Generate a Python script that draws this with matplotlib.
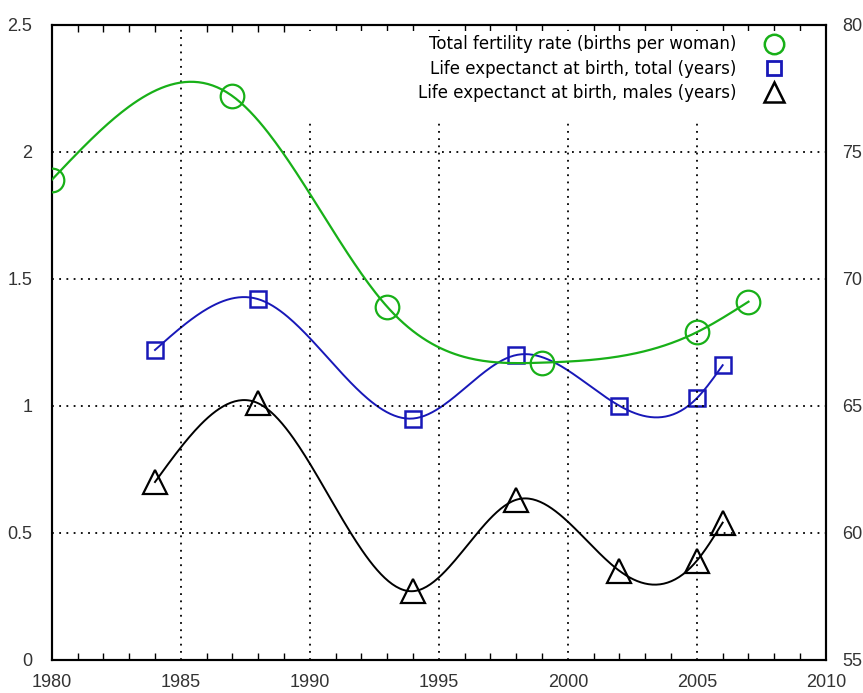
import numpy as np
import matplotlib.pyplot as plt
from matplotlib.patches import Rectangle
from matplotlib.ticker import MultipleLocator

# data
fert_years = [1980, 1987, 1993, 1999, 2005, 2007]
fertility = [1.89, 2.22, 1.39, 1.17, 1.29, 1.41]

life_years = [1984, 1988, 1994, 1998, 2002, 2005, 2006]
life_total = [67.2, 69.2, 64.5, 67.0, 65.0, 65.3, 66.6]
life_males = [62.0, 65.1, 57.7, 61.3, 58.5, 58.9, 60.4]

labels = ['Total fertility rate (births per woman)',
          'Life expectanct at birth, total (years)',
          'Life expectanct at birth, males (years)']


def natural_spline(x, y, n=300):
    # natural cubic spline through the points, for the smooth curves
    x = np.asarray(x, float)
    y = np.asarray(y, float)
    k = len(x)
    h = np.diff(x)
    A = np.zeros((k, k))
    b = np.zeros(k)
    A[0, 0] = A[-1, -1] = 1
    for i in range(1, k - 1):
        A[i, i - 1] = h[i - 1]
        A[i, i] = 2 * (h[i - 1] + h[i])
        A[i, i + 1] = h[i]
        b[i] = 3 * ((y[i + 1] - y[i]) / h[i] - (y[i] - y[i - 1]) / h[i - 1])
    c = np.linalg.solve(A, b)
    xs = np.linspace(x[0], x[-1], n)
    idx = np.clip(np.searchsorted(x, xs) - 1, 0, k - 2)
    dx = xs - x[idx]
    bb = (y[1:] - y[:-1]) / h - h * (2 * c[:-1] + c[1:]) / 3
    dd = (c[1:] - c[:-1]) / (3 * h)
    ys = y[idx] + bb[idx] * dx + c[idx] * dx**2 + dd[idx] * dx**3
    return xs, ys


plt.rcParams['font.family'] = ['Liberation Sans Narrow', 'Liberation Sans', 'DejaVu Sans']

fig = plt.figure(figsize=(8.63, 6.93), dpi=100)
ax = fig.add_axes([0.060, 0.048, 0.897, 0.916])
ax2 = ax.twinx()

green = '#18b018'
blue = '#1818b8'

xs, ys = natural_spline(fert_years, fertility)
ax.plot(xs, ys, color=green, lw=1.6, zorder=3)
ax.plot(fert_years, fertility, 'o', ms=17, mfc='none', mec=green, mew=1.6, zorder=4)

xs, ys = natural_spline(life_years, life_total)
ax2.plot(xs, ys, color=blue, lw=1.4, zorder=3)
ax2.plot(life_years, life_total, 's', ms=12, mfc='none', mec=blue, mew=1.8, zorder=4)

xs, ys = natural_spline(life_years, life_males)
ax2.plot(xs, ys, color='black', lw=1.4, zorder=3)
ax2.plot(life_years, life_males, '^', ms=17, mfc='none', mec='black', mew=1.6, zorder=4)

ax.set_xlim(1980, 2010)
ax.set_ylim(0, 2.5)
ax2.set_ylim(55, 80)

ax.xaxis.set_major_locator(MultipleLocator(5))
ax.xaxis.set_minor_locator(MultipleLocator(1))
ax.set_yticks([0, 0.5, 1, 1.5, 2, 2.5])
ax.set_yticklabels(['0', '0.5', '1', '1.5', '2', '2.5'])
ax2.set_yticks([55, 60, 65, 70, 75, 80])

ax.set_axisbelow(True)
ax.grid(True, which='major', color='black', linestyle=(0, (1, 3)), lw=1.3)

ax.tick_params(axis='x', which='both', direction='in', top=True, length=5, width=1)
ax.tick_params(axis='x', which='major', length=0, pad=10)
ax.tick_params(axis='y', length=0, pad=14)
ax2.tick_params(axis='y', length=0, pad=12)
for a in (ax, ax2):
    a.tick_params(labelsize=13, labelcolor='#333333')
    for s in a.spines.values():
        s.set_linewidth(1.5)

ax.set_zorder(ax2.get_zorder() + 1)
ax.patch.set_visible(False)

# white box behind the legend hides the grid there
ax.add_patch(Rectangle((0.314, 0.846), 0.681, 0.144, transform=ax.transAxes,
                       facecolor='white', edgecolor='none', zorder=1))

# legend, text on the left and marker on the right
h1 = plt.Line2D([], [], marker='o', ls='none', ms=14, mfc='none', mec=green, mew=1.8)
h2 = plt.Line2D([], [], marker='s', ls='none', ms=10, mfc='none', mec=blue, mew=2.0)
h3 = plt.Line2D([], [], marker='^', ls='none', ms=15, mfc='none', mec='black', mew=1.8)
ax.legend([h1, h2, h3], labels, loc='upper right', frameon=False, markerfirst=False,
          prop={'family': 'DejaVu Sans', 'size': 12}, handletextpad=1.2,
          labelspacing=0.38, borderaxespad=0.0, bbox_to_anchor=(0.9625, 0.994))

fig.savefig('out.png', dpi=100)
